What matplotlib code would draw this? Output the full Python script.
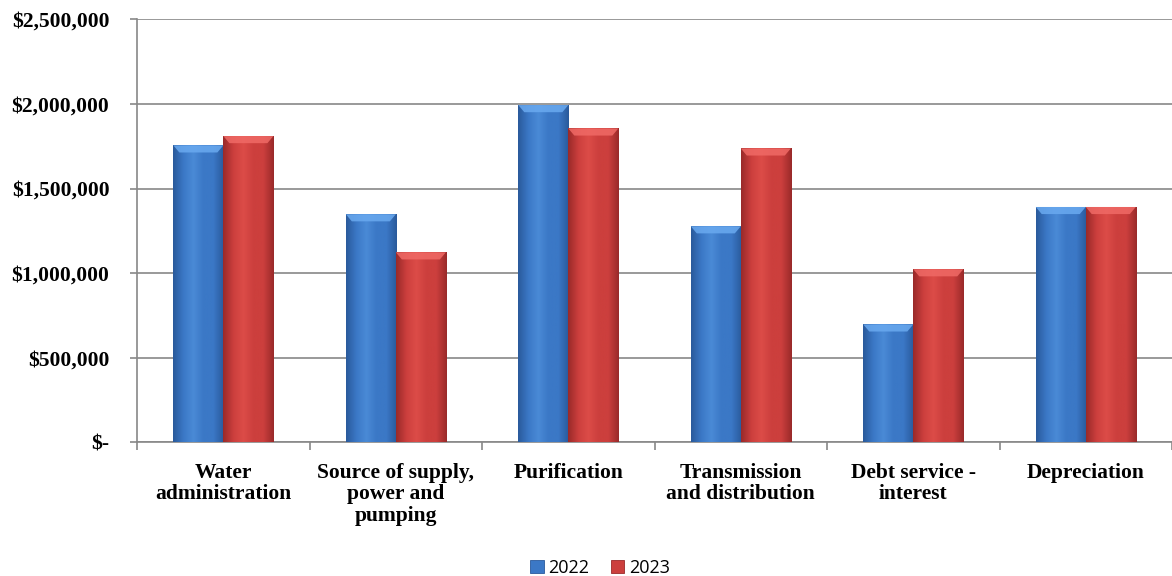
import numpy as np
import matplotlib.pyplot as plt
from matplotlib.patches import Polygon
from matplotlib.ticker import FuncFormatter, FixedLocator
from matplotlib.colors import LinearSegmentedColormap

# -----------------------------
# Data
# -----------------------------
categories = [
    "Water\nadministration",
    "Source of supply,\npower and\npumping",
    "Purification",
    "Transmission\nand distribution",
    "Debt service -\ninterest",
    "Depreciation",
]
years = ["2022", "2023"]
values_2022 = [1755000, 1348000, 1993000, 1277000, 697000, 1391000]
values_2023 = [1810000, 1123000, 1855000, 1737000, 1023000, 1391000]

# -----------------------------
# Style
# -----------------------------
blue_light, blue_mid, blue_dark = "#4a8ad6", "#3b78c6", "#2a5a9c"
blue_top = "#6aaaf0"
red_light, red_mid, red_dark = "#dc4c48", "#cc3f3d", "#9a2a2a"
red_top = "#f06a66"
grid_col = "#888888"

fig = plt.figure(figsize=(11.72, 5.76), dpi=100)
ax = fig.add_axes([0.117, 0.232, 0.883, 0.7345])

x = np.arange(len(categories))
width = 0.29


def shaded_bars(xpos, vals, light, mid, dark, top_col, label):
    bars = ax.bar(xpos, vals, width, color=mid, edgecolor=dark,
                  linewidth=0.6, label=label, zorder=3)
    cmap = LinearSegmentedColormap.from_list(
        "g", [dark, mid, light, mid, mid, dark])
    grad = np.linspace(0, 1, 64).reshape(1, -1)
    for b in bars:
        x0, w, h = b.get_x(), b.get_width(), b.get_height()
        im = ax.imshow(grad, cmap=cmap, aspect="auto",
                       extent=[x0, x0 + w, 0, h], zorder=3.5)
        im.set_clip_path(b)
        # top bevel
        bev = 42000
        inset = w * 0.12
        top = Polygon([[x0, h], [x0 + w, h], [x0 + w - inset, h - bev],
                       [x0 + inset, h - bev]], closed=True,
                      facecolor=top_col, edgecolor="none", alpha=0.85,
                      zorder=4)
        ax.add_patch(top)
    return bars


shaded_bars(x - width / 2, values_2022, blue_light, blue_mid, blue_dark,
            blue_top, years[0])
shaded_bars(x + width / 2, values_2023, red_light, red_mid, red_dark,
            red_top, years[1])

ax.set_xlim(-0.5, len(categories) - 0.5)
ax.set_ylim(0, 2500000)

# y axis
ax.set_yticks(np.arange(0, 2500001, 500000))
ax.yaxis.set_major_formatter(FuncFormatter(
    lambda v, p: "$-" if v == 0 else "${:,.0f}".format(v)))
ax.yaxis.grid(True, color=grid_col, linewidth=1.2, zorder=0)
ax.set_axisbelow(True)

# x axis: labels at centers, tick marks at boundaries
ax.set_xticks(x)
ax.set_xticklabels(categories)
ax.xaxis.set_minor_locator(FixedLocator(np.arange(-0.5, len(categories), 1)))
ax.tick_params(axis="x", which="major", length=0, pad=15)
ax.tick_params(axis="x", which="minor", length=6, color=grid_col, width=1.2)
ax.tick_params(axis="y", length=5, color=grid_col, width=1.2, pad=15)

for lab in ax.get_xticklabels() + ax.get_yticklabels():
    lab.set_fontfamily("Liberation Serif")
    lab.set_fontweight("bold")
    lab.set_fontsize(15.5)
for lab in ax.get_xticklabels():
    lab.set_linespacing(1.08)
    lab.set_verticalalignment("top")

for side in ["top", "right"]:
    ax.spines[side].set_visible(False)
for side in ["left", "bottom"]:
    ax.spines[side].set_color(grid_col)
    ax.spines[side].set_linewidth(1.2)

leg = fig.legend(loc="lower center", bbox_to_anchor=(0.512, -0.03), ncol=2,
                 frameon=False, handlelength=0.75, handleheight=0.75,
                 handletextpad=0.25, columnspacing=1.2,
                 prop={"family": "Open Sans", "size": 13})

plt.savefig("out.png", dpi=100)
